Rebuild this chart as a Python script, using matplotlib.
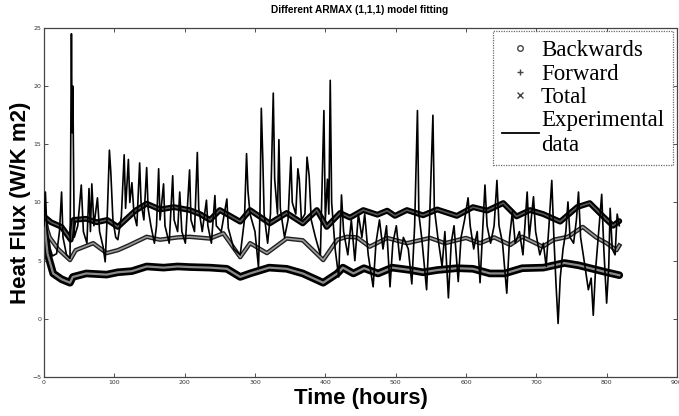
import matplotlib
matplotlib.use("Agg")
import matplotlib.pyplot as plt
from matplotlib.lines import Line2D

title = "Different ARMAX (1,1,1) model fitting"
xlabel = "Time (hours)"
ylabel = "Heat Flux (W/K m2)"
series_names = ["Backwards", "Forward", "Total", "Experimental\ndata"]
xticks = [0, 100, 200, 300, 400, 500, 600, 700, 800, 900]
yticks = [-5, 0, 5, 10, 15, 20, 25]

fwd_t = [0, 10, 25, 38, 42, 60, 75, 90, 105, 130, 146, 165, 185, 207, 222, 236, 250, 279, 293, 321,
         345, 368, 388, 402, 421, 435, 454, 474, 488, 499, 516, 539, 559, 587, 610, 630, 653, 672,
         691, 710, 734, 758, 776, 795, 809, 818]
fwd_v = [8.8, 8.3, 7.9, 6.8, 8.5, 8.6, 8.3, 8.5, 7.9, 9.3, 9.9, 9.4, 9.6, 9.35, 9.0, 8.5, 9.35, 8.35,
         9.35, 8.2, 9.1, 8.2, 9.35, 7.9, 9.1, 8.7, 9.35, 8.95, 9.3, 8.85, 9.35, 8.9, 9.4, 8.85, 9.6,
         9.3, 9.95, 8.8, 9.35, 9.0, 8.35, 9.6, 9.95, 8.8, 8.0, 8.4]

tot_t = [0, 8, 20, 37, 45, 70, 89, 105, 120, 146, 165, 190, 207, 236, 255, 279, 293, 317, 345, 368,
         397, 417, 431, 445, 463, 488, 516, 549, 570, 600, 620, 640, 663, 680, 709, 725, 745, 766,
         785, 800, 814, 818]
tot_v = [8.5, 7.0, 6.0, 5.05, 5.9, 6.5, 5.65, 5.9, 6.3, 7.05, 6.8, 7.0, 7.05, 6.9, 7.35, 5.3, 6.5,
         5.65, 6.9, 6.75, 5.05, 6.8, 7.05, 7.0, 6.2, 6.95, 6.5, 6.95, 6.5, 6.95, 6.5, 7.0, 6.35, 7.05,
         6.2, 6.8, 7.05, 7.9, 7.0, 6.5, 5.9, 6.3]

bwd_t = [0, 5, 13, 25, 37, 41, 60, 89, 105, 125, 146, 170, 190, 207, 236, 260, 279, 293, 320, 345,
         368, 397, 417, 425, 440, 455, 475, 495, 520, 539, 560, 587, 610, 634, 655, 680, 710, 740,
         760, 780, 800, 818]
bwd_v = [8.5, 5.6, 3.9, 3.4, 3.1, 3.6, 3.9, 3.8, 4.0, 4.1, 4.5, 4.4, 4.5, 4.45, 4.4, 4.3, 3.6, 3.9,
         4.4, 4.3, 3.9, 3.1, 3.9, 4.4, 3.9, 4.35, 3.9, 4.4, 4.2, 4.0, 4.2, 4.35, 4.3, 3.9, 3.9, 4.35,
         4.4, 4.8, 4.6, 4.3, 4.0, 3.75]

exp_t = [0, 2, 4, 8, 12, 18, 22, 25, 27, 32, 37, 39, 40, 41, 43, 48, 53, 56, 61, 64, 66, 68, 71, 76,
         79, 84, 87, 90, 93, 95, 98, 102, 105, 110, 114, 116, 120, 122, 125, 128, 132, 136, 138, 142,
         146, 148, 152, 157, 160, 163, 165, 170, 172, 178, 183, 185, 190, 193, 196, 201, 207, 209,
         214, 218, 220, 225, 231, 233, 238, 243, 245, 252, 260, 262, 270, 279, 285, 288, 290, 293,
         300, 305, 307, 309, 311, 313, 318, 322, 326, 328, 332, 334, 336, 342, 347, 351, 353, 358,
         361, 363, 366, 371, 374, 377, 380, 386, 393, 398, 400, 403, 405, 407, 409, 414, 419, 423,
         426, 432, 437, 442, 447, 452, 456, 461, 468, 472, 477, 482, 487, 492, 496, 501, 506, 511,
         518, 523, 527, 531, 533, 537, 544, 548, 553, 555, 560, 566, 570, 575, 579, 583, 589, 593,
         598, 603, 606, 611, 616, 620, 624, 627, 630, 635, 640, 644, 647, 652, 658, 662, 666, 670,
         676, 681, 687, 690, 696, 699, 705, 710, 714, 718, 722, 725, 728, 731, 734, 738, 742, 745,
         748, 753, 757, 760, 763, 768, 774, 778, 781, 784, 788, 793, 796, 800, 803, 805, 808, 812,
         815, 818]
exp_v = [8.0, 10.9, 7.8, 6.2, 5.4, 5.6, 7.5, 10.9, 7.0, 5.5, 5.2, 24.5, 16.0, 20.0, 7.0, 8.0, 11.5,
         7.5, 6.5, 11.2, 7.5, 11.6, 8.0, 10.4, 7.5, 6.2, 4.9, 9.0, 14.5, 12.6, 8.5, 7.0, 6.8, 8.8,
         14.1, 9.5, 13.7, 10.0, 11.7, 9.0, 8.0, 13.4, 10.0, 8.5, 13.0, 9.5, 8.0, 6.5, 8.0, 12.9, 8.5,
         11.6, 8.0, 6.5, 12.3, 8.5, 7.5, 10.9, 7.5, 6.5, 12.8, 8.5, 7.5, 14.3, 9.5, 7.5, 10.2, 8.0,
         6.5, 10.6, 8.0, 7.5, 10.3, 7.8, 6.0, 5.5, 8.5, 14.2, 11.0, 9.0, 7.5, 4.4, 9.0, 18.1, 14.0,
         9.0, 6.5, 9.0, 19.4, 12.0, 9.0, 15.4, 9.5, 7.0, 8.5, 13.9, 10.0, 9.0, 12.9, 12.0, 8.5, 9.0,
         13.9, 12.3, 8.5, 7.0, 5.5, 17.9, 8.5, 12.0, 9.0, 20.5, 10.0, 6.0, 3.6, 10.65, 7.5, 5.5, 8.5,
         5.0, 9.0, 7.0, 9.0, 5.5, 2.75, 6.5, 8.5, 6.0, 8.0, 2.75, 6.5, 8.0, 5.05, 7.0, 6.0, 3.0, 8.0,
         17.9, 9.0, 7.0, 2.5, 8.0, 17.5, 9.5, 7.0, 4.5, 7.5, 1.8, 6.5, 8.0, 3.2, 7.0, 8.5, 10.4, 8.0,
         6.0, 7.5, 3.1, 8.0, 11.5, 8.0, 6.5, 8.0, 11.9, 8.0, 6.5, 2.2, 7.0, 9.2, 6.5, 7.5, 5.5, 10.9,
         7.0, 10.5, 7.5, 5.5, 6.5, 4.5, 8.0, 11.9, 7.0, 3.0, -0.4, 3.5, 6.0, 7.5, 10.05, 7.0, 6.5,
         8.5, 10.9, 7.0, 5.0, 2.5, 3.5, 0.3, 4.0, 7.0, 10.7, 6.0, 1.35, 4.5, 9.5, 6.0, 5.5, 9.0, 8.0]

fig = plt.figure(figsize=(6.79, 4.16), dpi=100)
ax = fig.add_axes([0.0648, 0.0938, 0.9322, 0.8389])

# model fits (drawn as dense-marker bands)
ax.plot(bwd_t, bwd_v, color="black", lw=5.5, solid_joinstyle="round", solid_capstyle="round", zorder=2)
ax.plot(bwd_t, bwd_v, color="#8a8a8a", lw=1.6, zorder=2.1)
ax.plot(tot_t, tot_v, color="#222222", lw=3.2, solid_joinstyle="round", zorder=2)
ax.plot(tot_t, tot_v, color="#9a9a9a", lw=1.2, zorder=2.1)
ax.plot(fwd_t, fwd_v, color="black", lw=4.2, solid_joinstyle="round", solid_capstyle="round", zorder=2)
ax.plot(fwd_t, fwd_v, color="#555555", lw=1.2, zorder=2.1)
ax.plot(exp_t, exp_v, color="black", lw=1.2, zorder=3)

ax.set_xlim(0, 900)
ax.set_ylim(-5, 25)
ax.set_xticks(xticks)
ax.set_yticks(yticks)
ax.tick_params(direction="in", length=3, width=0.6, top=True, right=True,
               labelsize=4.5, labelcolor="#333333", color="#333333", pad=2)
for s in ax.spines.values():
    s.set_linestyle((0, (1, 1)))
    s.set_linewidth(0.9)
    s.set_color("#444444")

fig.text(0.53, 0.975, title, ha="center", va="center", fontsize=7.3,
         fontweight="bold", family="Liberation Sans")
ax.set_xlabel(xlabel, fontsize=16, fontweight="bold", family="Liberation Sans", labelpad=2)
ax.set_ylabel(ylabel, fontsize=16, fontweight="bold", family="Liberation Sans", labelpad=1)

handles = [
    Line2D([], [], ls="none", marker="o", ms=4, mfc="none", mec="#444444", mew=1.0),
    Line2D([], [], ls="none", marker="+", ms=5, mec="#444444", mew=1.0),
    Line2D([], [], ls="none", marker="x", ms=4, mec="#444444", mew=1.0),
    Line2D([], [], color="black", lw=1.3),
]
leg = ax.legend(handles, series_names, loc="upper right", bbox_to_anchor=(0.994, 0.991),
                prop={"family": "Liberation Serif", "size": 16.5}, frameon=True, fancybox=False,
                edgecolor="#444444", handlelength=1.6, handletextpad=0.1, labelspacing=0.1,
                borderpad=0.4, borderaxespad=0.0)
leg.get_frame().set_linestyle((0, (1, 1)))
leg.get_frame().set_linewidth(0.9)

fig.savefig("out.png", dpi=100)
